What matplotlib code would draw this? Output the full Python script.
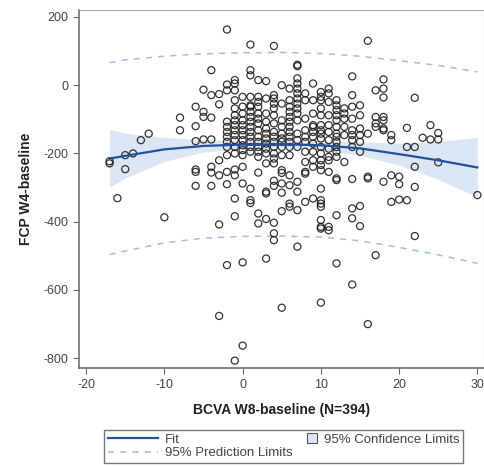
import matplotlib.pyplot as plt
import numpy as np
from matplotlib.patches import Patch, Rectangle
from matplotlib.lines import Line2D
from matplotlib.legend_handler import HandlerPatch

plt.rcParams['font.family'] = ['Liberation Sans', 'DejaVu Sans']
plt.rcParams['axes.unicode_minus'] = False

# scatter data, read column by column (BCVA change is whole letters)
bcva = (
    [-17, -17, -16, -15, -15, -14, -13, -12, -10]
    + [-8, -8, -6, -6, -6, -6, -6, -6, -5, -5, -5, -5, -4, -4, -4, -4, -4, -4, -4]
    + [-3, -3, -3, -3, -3, -3]
    + [-2] * 13 + [-1] * 18 + [0] * 15 + [1] * 18 + [2] * 16 + [3] * 15
    + [4] * 19 + [5] * 15 + [6] * 16 + [7] * 18 + [8] * 11 + [9] * 12
    + [10] * 22 + [11] * 13 + [12] * 16 + [13] * 6 + [14] * 12 + [15] * 8
    + [16] * 5 + [17] * 5 + [18] * 8
    + [19, 19, 19, 19, 20, 20, 20, 21, 21, 21, 22, 22, 22, 22, 22, 23, 24, 24, 25, 25, 25, 30]
)
fcp = (
    [-223, -229, -331, -205, -246, -200, -161, -142, -387]
    + [-95, -132, -63, -120, -164, -247, -254, -295, -13, -78, -93, -159, 44, -29, -95, -159, -239, -256, -295]
    + [-26, -56, -220, -264, -408, -676]
    # x = -2
    + [163, 2, -15, -107, -122, -137, -151, -166, -181, -205, -254, -290, -527]
    # x = -1
    + [15, 5, -15, -44, -68, -88, -103, -117, -132, -146, -161, -181, -200, -247, -264, -332, -384, -807]
    # x = 0
    + [-34, -63, -83, -103, -117, -132, -146, -161, -176, -190, -205, -239, -288, -519, -763]
    # x = 1
    + [119, 44, 29, -34, -59, -63, -78, -93, -107, -122, -137, -151, -166, -181, -195, -303, -337, -345]
    # x = 2
    + [15, -34, -49, -63, -83, -98, -112, -132, -151, -166, -181, -195, -210, -256, -376, -405]
    # x = 3
    + [12, -39, -83, -107, -127, -142, -156, -171, -186, -200, -229, -312, -317, -392, -508]
    # x = 4
    + [115, -29, -39, -54, -68, -88, -112, -137, -151, -166, -181, -200, -215, -229, -280, -295, -403, -434, -454]
    # x = 5
    + [0, -54, -103, -122, -142, -156, -166, -181, -205, -249, -257, -288, -315, -369, -652]
    # x = 6
    + [-10, -44, -63, -78, -93, -107, -122, -137, -151, -166, -181, -205, -264, -293, -347, -356]
    # x = 7
    + [60, 56, 20, 5, -10, -24, -39, -54, -68, -83, -103, -142, -161, -181, -283, -312, -366, -473]
    # x = 8
    + [-24, -44, -98, -132, -151, -166, -195, -225, -254, -259, -342]
    # x = 9
    + [5, -44, -83, -117, -122, -137, -151, -171, -195, -220, -239, -332]
    # x = 10
    + [-20, -34, -44, -68, -88, -117, -132, -142, -156, -181, -200, -220, -234, -249, -303, -337, -347, -356, -395, -415, -420, -637]
    # x = 11
    + [-10, -24, -49, -88, -117, -137, -161, -186, -210, -220, -254, -415, -425]
    # x = 12
    + [-44, -59, -73, -88, -103, -122, -142, -151, -166, -181, -195, -210, -273, -278, -381, -522]
    # x = 13
    + [-68, -83, -98, -122, -146, -225]
    # x = 14
    + [26, -29, -63, -98, -132, -146, -161, -181, -275, -361, -390, -584]
    # x = 15
    + [-59, -88, -127, -146, -166, -195, -354, -413]
    # x = 16
    + [130, -142, -268, -273, -700]
    # x = 17
    + [-15, -93, -112, -122, -498]
    # x = 18
    + [17, -10, -36, -93, -103, -127, -132, -283]
    + [-146, -161, -264, -342, -268, -290, -335, -125, -181, -337, -37, -181, -239, -298, -442, -154, -117, -159, -140, -159, -226, -322]
)

# quadratic fit with 95% confidence and prediction limits
fit_x = [-17, -15, -10, -5, 0, 5, 10, 15, 20, 25, 30]
fit_y = [-215, -207, -188, -178, -174, -173, -176, -185, -202, -220, -241]
cl_upper = [-130, -140, -153, -160, -162, -162, -163, -166, -170, -165, -153]
cl_lower = [-298, -272, -223, -196, -186, -184, -189, -205, -234, -276, -328]
pl_upper = [66, 74, 85, 92, 95, 96, 93, 85, 72, 58, 39]
pl_lower = [-496, -486, -462, -448, -443, -442, -445, -456, -475, -497, -522]

fit_color = "#24519c"
band_color = "#dbe5f3"
pl_color = "#a8bbe0"


def small_square(legend, orig_handle, xdescent, ydescent, width, height, fontsize):
    # square swatch at the right end of the handle box, next to its label
    side = 0.72 * fontsize
    return Rectangle((width - side - xdescent, (height - side) / 2 - ydescent), side, side)


fig = plt.figure(figsize=(4.85, 4.66), dpi=100)
ax = fig.add_axes([0.163, 0.21, 0.835, 0.768])

ax.fill_between(fit_x, cl_lower, cl_upper, color=band_color, lw=0, zorder=1)
ax.plot(fit_x, pl_upper, color=pl_color, ls=(0, (4, 4)), lw=1.1, zorder=2)
ax.plot(fit_x, pl_lower, color=pl_color, ls=(0, (4, 4)), lw=1.1, zorder=2)
ax.plot(fit_x, fit_y, color=fit_color, lw=1.6, zorder=4)
ax.scatter(bcva, fcp, s=26, facecolors="none", edgecolors="#1e1e1e",
           linewidths=0.9, alpha=0.9, zorder=3)

ax.set_xlim(-20.9, 30.85)
ax.set_ylim(-829, 219.6)
ax.set_xticks([-20, -10, 0, 10, 20, 30])
ax.set_yticks([-800, -600, -400, -200, 0, 200])
ax.tick_params(direction="out", length=4, color="#666666", labelcolor="#444444",
               labelsize=9)
for side in ["left", "bottom"]:
    ax.spines[side].set_color("#666666")
    ax.spines[side].set_linewidth(1.1)
for side in ["top", "right"]:
    ax.spines[side].set_color("#aaaaaa")

ax.set_xlabel("BCVA W8-baseline (N=394)", fontsize=10, fontweight="bold",
              color="#222222", labelpad=9)
ax.set_ylabel("FCP W4-baseline", fontsize=10, fontweight="bold",
              color="#222222", labelpad=8)

handles = [
    Line2D([], [], color=fit_color, lw=1.6),
    Line2D([], [], color=pl_color, ls=(0, (4, 4)), lw=1.1),
    Patch(facecolor=band_color, edgecolor="#555555", lw=0.8),
]
labels = ["Fit", "95% Prediction Limits", "95% Confidence Limits"]
leg = fig.legend(handles, labels, ncol=2, loc="upper left",
                 bbox_to_anchor=(0.214, 0.078), fontsize=9.5, frameon=True,
                 fancybox=False, edgecolor="#555555", handlelength=3.8,
                 labelspacing=0.1, columnspacing=-2.0,
                 borderpad=0.3, handletextpad=0.55, borderaxespad=0,
                 handler_map={Patch: HandlerPatch(patch_func=small_square)})
for t in leg.get_texts():
    t.set_color("#444444")

fig.savefig("out.png", dpi=100)
